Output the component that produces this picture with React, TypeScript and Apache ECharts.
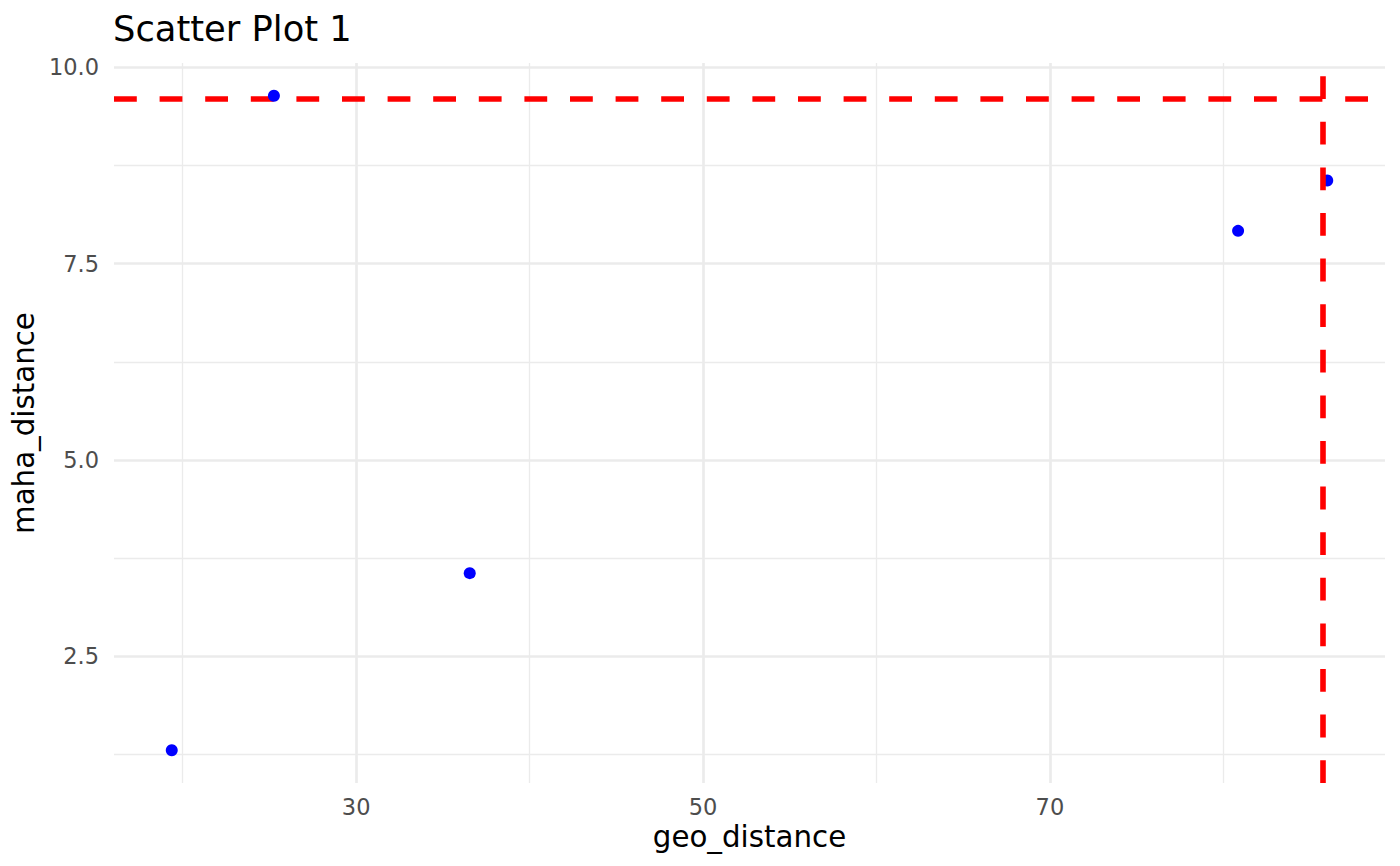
import React, { useEffect, useRef } from "react";
import * as echarts from "echarts";

const geoDistance = [19.37, 25.26, 36.55, 80.85, 85.99];
const mahaDistance = [1.302, 9.639, 3.558, 7.918, 8.559];
const xMajorTicks = [30, 50, 70];
const xMinorTicks = [20, 40, 60, 80];
const yMajorTicks = [2.5, 5.0, 7.5, 10.0];
const yMinorTicks = [1.25, 3.75, 6.25, 8.75];
const hLineY = 9.6;
const vLineX = 85.74;
const xRange = [16.04, 89.32];
const yRange = [0.885, 10.056];

const FONT = "DejaVu Sans";

export default function App() {
  const ref = useRef<HTMLDivElement>(null);
  useEffect(() => {
    if (!ref.current) return;
    const chart = echarts.init(ref.current, null, { renderer: "svg" });
    const gridColor = "#EBEBEB";
    const majorW = 2.7;
    const minorW = 1.3;
    const gridLines = [
      ...xMinorTicks.map((v) => ({ xAxis: v, lineStyle: { width: minorW, color: gridColor, type: "solid" } })),
      ...yMinorTicks.map((v) => ({ yAxis: v, lineStyle: { width: minorW, color: gridColor, type: "solid" } })),
      ...xMajorTicks.map((v) => ({ xAxis: v, lineStyle: { width: majorW, color: gridColor, type: "solid" } })),
      ...yMajorTicks.map((v) => ({ yAxis: v, lineStyle: { width: majorW, color: gridColor, type: "solid" } })),
    ];
    const redStyle = { color: "#FF0000", width: 5.6, type: [22.8, 22.8], cap: "butt", opacity: 1 };
    chart.setOption({
      animation: false,
      title: {
        text: "Scatter Plot 1",
        left: 113,
        top: 11,
        padding: 0,
        textStyle: { fontFamily: FONT, fontSize: 35.3, fontWeight: "normal", color: "#000000" },
      },
      grid: { left: 114, right: 15, top: 63, bottom: 83, containLabel: false },
      xAxis: {
        type: "value",
        min: xRange[0],
        max: xRange[1],
        name: "geo_distance",
        nameLocation: "middle",
        nameGap: 38,
        nameTextStyle: { fontFamily: FONT, fontSize: 29.3, color: "#000000" },
        axisLine: { show: false },
        axisTick: { show: false },
        splitLine: { show: false },
        axisLabel: {
          customValues: xMajorTicks,
          margin: 12,
          fontFamily: FONT,
          fontSize: 22.5,
          color: "#4D4D4D",
          formatter: (v: number) => String(v),
        },
      },
      yAxis: {
        type: "value",
        min: yRange[0],
        max: yRange[1],
        name: "maha_distance",
        nameLocation: "middle",
        nameGap: 70,
        nameTextStyle: { fontFamily: FONT, fontSize: 29.3, color: "#000000" },
        axisLine: { show: false },
        axisTick: { show: false },
        splitLine: { show: false },
        axisLabel: {
          customValues: yMajorTicks,
          margin: 15,
          fontFamily: FONT,
          fontSize: 22.5,
          color: "#4D4D4D",
          formatter: (v: number) => v.toFixed(1),
        },
      },
      series: [
        {
          type: "scatter",
          data: [],
          z: 1,
          silent: true,
          markLine: {
            z: 1,
            silent: true,
            symbol: ["none", "none"],
            label: { show: false },
            emphasis: { disabled: true },
            data: gridLines,
          },
        },
        {
          type: "scatter",
          data: [],
          z: 2,
          silent: true,
          markLine: {
            z: 2,
            silent: true,
            symbol: ["none", "none"],
            label: { show: false },
            emphasis: { disabled: true },
            lineStyle: redStyle,
            data: [{ yAxis: hLineY }],
          },
        },
        {
          type: "scatter",
          z: 3,
          symbolSize: 12,
          itemStyle: { color: "#0000FF", opacity: 1 },
          data: geoDistance.map((x, i) => [x, mahaDistance[i]]),
        },
        {
          type: "scatter",
          data: [],
          z: 4,
          silent: true,
          markLine: {
            z: 4,
            silent: true,
            symbol: ["none", "none"],
            label: { show: false },
            emphasis: { disabled: true },
            lineStyle: redStyle,
            data: [{ xAxis: vLineX }],
          },
        },
      ],
    });
    return () => chart.dispose();
  }, []);
  return (
    <div
      ref={ref}
      style={{ position: "fixed", left: 0, top: 0, width: 1400, height: 866, background: "#ffffff" }}
    />
  );
}
